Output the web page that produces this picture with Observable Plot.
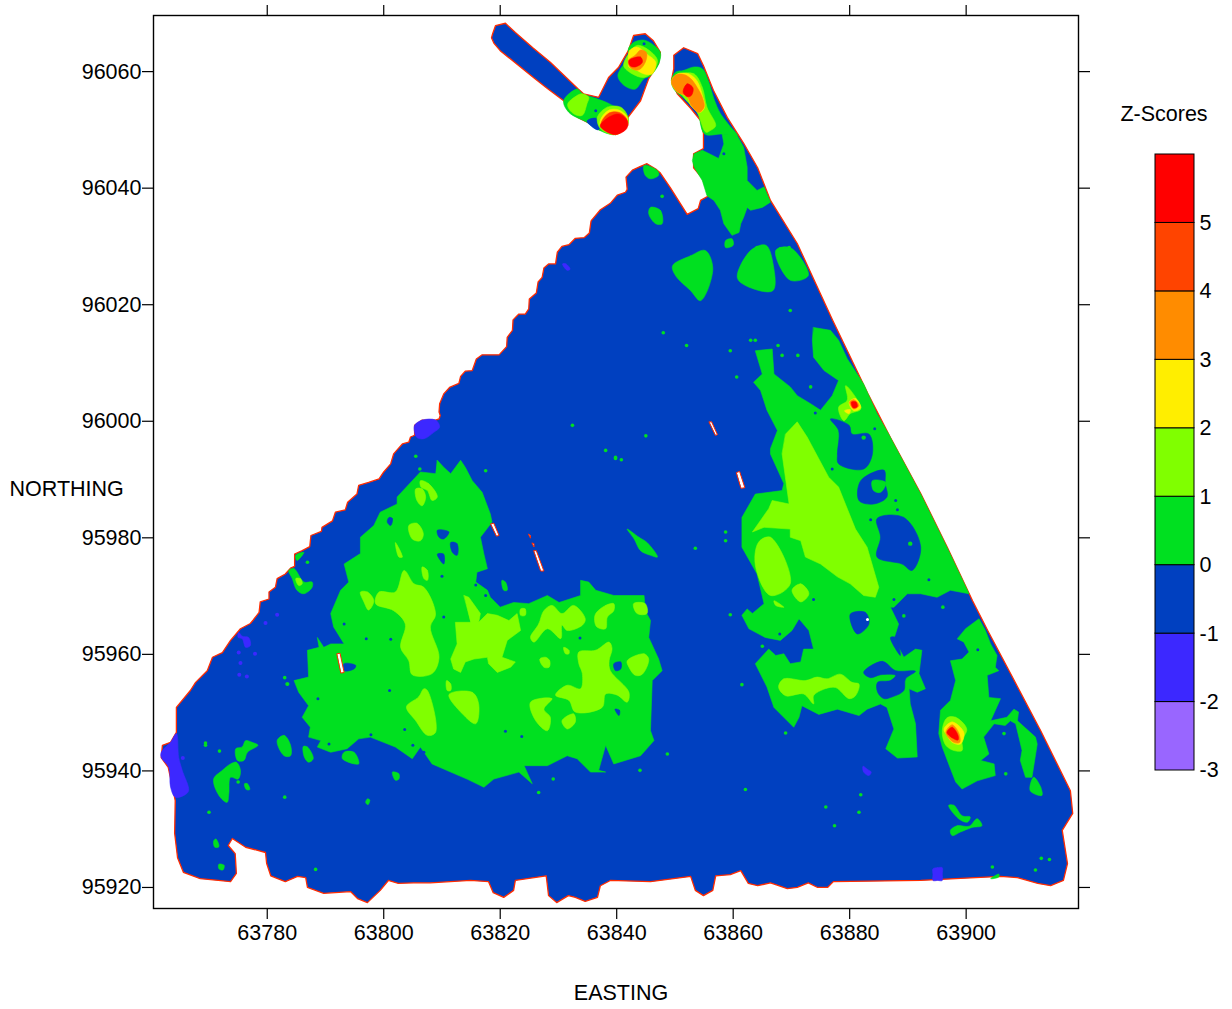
<!DOCTYPE html>
<html>
<head>
<meta charset="utf-8">
<script src="https://cdn.jsdelivr.net/npm/d3@7"></script>
<script src="https://cdn.jsdelivr.net/npm/@observablehq/plot@0.6"></script>
<style>
html,body{margin:0;padding:0;background:#fff}
#wrap{position:relative;width:1232px;height:1009px;overflow:hidden}
#wrap svg{position:absolute;overflow:visible;max-width:none}
</style>
</head>
<body>
<div id="wrap"></div>
<script>
// Survey coordinates are listed as metres beyond these bases, as flat easting,northing lists.
const eastingBase = 63700, northingBase = 95900;
const eastingTicks = [63780,63800,63820,63840,63860,63880,63900];
const northingTicks = [95920,95940,95960,95980,96000,96020,96040,96060];
const zLevels = [-3,-2,-1,0,1,2,3,4,5,6];
const zTickLabels = [-3,-2,-1,0,1,2,3,4,5];
const zColors = ["#9966ff","#3c28ff","#0040c0","#00e020","#80ff00","#ffee00","#ff8c00","#ff4400","#ff0000"];

// Extent of the surveyed area, band -1..0
const surveyArea = [
[145.2,144.2,146.7,143.3,147.5,142.6,149.2,140.1,152.1,135.5,154.0,136.5,154.4,137.9,155.8,138.7,154.7,141.7,153.2,143.5,153.2,145.9,154.9,146.8,154.9,149.4,154.4,151.6,152.7,153.7,150.4,156.2,149.4,158.5,149.8,160.5,149.8,162.8,151.5,164.1,153.9,163.1,154.9,161.0,156.6,156.8,159.0,152.1,161.8,147.7,164.2,143.5,166.4,137.9,171.0,130.5,177.1,117.3,179.6,112.1,183.1,104.8,187.0,97.2,192.2,87.6,196.8,78.3,201.1,69.2,203.7,64.1,207.1,57.7,212.8,46.9,217.9,36.6,218.3,32.7,216.5,29.8,217.4,24.1,216.7,21.2,214.5,20.3,212.3,20.7,208.8,21.7,205.9,21.9,192.2,21.2,177.2,21.0,176.2,20.0,174.5,20.0,172.9,20.8,171.0,20.0,169.3,19.8,166.4,20.8,164.2,20.3,162.6,20.7,161.3,22.9,159.5,22.2,157.0,22.0,156.5,19.5,154.9,18.6,153.5,19.5,152.7,21.9,145.8,21.0,138.9,21.2,137.2,20.3,136.7,18.3,134.6,17.6,132.9,18.3,131.7,18.6,129.7,17.4,128.3,18.6,127.9,22.0,122.6,21.2,122.3,19.5,120.6,18.3,118.8,19.1,118.0,21.0,114.9,21.2,108.0,20.8,105.1,20.8,102.5,20.7,100.8,21.2,99.4,19.5,97.2,17.4,95.5,18.1,94.3,19.3,89.7,19.0,86.9,20.0,86.6,21.7,85.2,21.9,83.1,21.0,80.6,22.0,79.9,24.1,79.7,26.0,76.3,26.9,74.0,28.4,73.3,27.2,74.5,25.8,74.7,22.4,73.7,21.0,71.6,21.2,68.5,21.5,65.6,22.6,64.6,25.1,64.1,29.3,64.2,34.9,63.0,40.6,61.8,42.3,62.0,44.4,63.4,44.9,64.4,46.6,64.4,50.9,66.8,53.8,67.7,55.2,69.7,57.2,70.6,59.5,72.3,60.3,73.7,62.4,75.4,64.4,77.1,65.3,77.6,65.9,78.6,67.2,78.8,69.0,80.3,69.5,80.3,70.7,81.4,71.5,81.7,73.0,83.1,73.8,84.0,74.8,84.7,75.1,84.7,77.2,86.0,77.8,87.3,78.5,87.5,80.4,89.3,81.1,89.4,81.8,91.2,82.9,91.7,84.4,93.4,84.8,93.8,86.1,95.4,87.5,95.7,89.0,97.4,89.5,99.2,90.1,100.0,91.3,101.2,92.7,101.7,94.4,102.3,95.1,103.2,96.1,104.3,96.4,104.6,97.3,105.3,97.6,105.3,99.3,106.6,100.2,108.9,100.2,109.5,100.4,109.7,101.0,109.5,101.6,109.6,103.0,110.3,104.7,111.3,105.8,112.9,106.5,113.2,107.7,114.0,108.6,115.2,108.7,115.9,110.7,116.9,111.4,119.8,111.4,121.1,112.8,121.2,114.4,122.1,115.6,122.2,117.4,123.2,118.4,124.3,118.4,124.9,119.3,125.0,121.0,126.2,122.0,126.5,123.9,127.2,124.7,127.5,126.3,128.3,127.0,129.5,127.0,129.8,129.0,130.6,130.0,131.8,130.3,132.9,131.4,134.4,131.5,135.3,132.3,135.6,134.4,137.2,136.3,138.9,137.4,140.1,138.8,141.5,139.3,141.8,139.8,141.6,141.9,142.7,143.1,144.0,143.7],
[118.7,166.5,119.2,167.9,120.9,168.3,122.6,166.7,125.7,164.0,128.6,161.6,133.3,157.1,134.3,156.2,136.9,155.6,138.6,159.0,140.3,160.7,142.0,163.6,142.9,166.2,144.9,166.5,146.3,165.3,147.5,163.3,147.2,161.4,145.5,158.8,144.1,155.0,141.9,152.1,141.9,150.8,139.8,149.2,136.9,150.1,135.0,151.3,133.4,152.1,131.7,153.3,130.9,155.0,128.1,157.1,125.7,159.0,120.0,163.6,118.9,164.9,118.5,165.8]
];

// Band -2..-1
const violetPatches = [
[61.8,43.2,63.4,44.9,64.4,46.4,64.8,42.3,65.4,40.1,66.5,36.6,65.7,35.8,64.2,35.5,63.4,37.2,63.1,40.6,61.8,42.3],
[75.1,63.8,75.7,63.1,76.8,62.9,77.1,61.5,76.3,61.2,75.7,62.7,75.0,62.9],
[182.3,40.8,183.0,40.3,183.7,39.8,183.3,39.2,182.4,39.8],
[194.3,23.2,195.1,23.4,195.9,23.4,195.9,22.3,195.9,21.2,195.1,21.2,194.3,21.2,194.3,22.2],
[105.3,99.3,106.6,100.2,108.9,100.2,109.6,99.0,108.6,98.1,106.9,97.0,105.7,97.2,105.3,98.1],
[130.7,127.0,131.3,127.0,132.0,126.1,131.5,125.9]
];
const violetSpots = [77.9,60.1,75.4,58.5,75.2,56.5,76.5,56.2,79.7,65.4,81.7,66.8,75.1,60.3,65.5,42.2];

// Band 0..1
const greenPatches = [
[130.9,155.0,133.2,157.0,134.1,156.2,136.7,155.3,138.7,154.5,141.8,152.5,141.8,150.8,139.8,149.2,136.9,150.0,134.9,151.3,131.8,153.0],
[140.2,159.3,140.7,160.5,142.1,162.5,142.0,163.9,142.9,165.0,144.7,165.4,146.4,164.5,147.5,163.3,147.2,161.3,145.8,159.3,144.7,158.8,143.2,157.0,141.8,157.3,140.7,158.2],
[150.1,159.9,151.5,160.2,153.3,160.8,154.7,160.5,155.8,158.2,156.7,155.3,157.8,152.8,159.3,150.8,160.7,149.0,158.1,149.3,155.1,149.3,153.8,153.3,152.1,155.0,149.8,157.0,149.4,158.5],
[153.3,145.9,154.7,146.5,156.1,145.8,157.5,145.1,158.4,147.6,158.1,149.3,160.7,149.0,161.8,147.0,162.4,143.6,162.4,141.3,164.1,139.6,165.3,140.2,166.4,137.6,165.0,136.7,163.0,136.2,162.4,136.7,161.8,135.0,161.3,133.9,161.0,132.4,159.8,131.9,158.4,133.9,157.8,136.2,156.7,137.9,155.5,138.7,154.7,141.3,153.3,143.6,153.0,144.7],
[144.7,143.9,147.0,143.0,147.2,142.2,145.8,141.6,144.9,142.2],
[145.8,136.7,147.5,136.2,147.8,133.9,146.7,133.9,145.5,135.6],
[158.7,131.0,159.8,131.3,160.0,130.2,158.7,129.8],
[149.6,126.7,152.7,128.4,155.2,129.3,156.5,126.2,154.4,120.7,152.7,122.4,150.1,125.0],
[160.7,124.7,163.0,129.3,165.6,130.2,166.9,126.7,166.8,122.4,162.1,123.3],
[167.3,129.3,169.8,129.8,172.9,125.0,169.8,124.2],
[173.8,116.1,176.7,115.6,178.1,113.9,179.6,110.7,182.4,106.4,184.7,101.3,186.7,97.8,187.6,96.1,192.2,87.5,196.7,78.4,200.5,70.4,197.3,71.0,195.0,69.8,192.2,70.4,189.9,70.4,187.6,68.1,187.0,68.1,188.4,65.2,187.6,62.7,189.3,59.5,191.3,60.9,192.4,60.7,191.9,56.7,193.0,54.1,191.6,53.5,190.2,54.1,190.4,51.5,191.3,48.1,191.6,42.4,188.2,42.2,186.2,43.8,187.6,47.2,186.4,50.9,185.3,51.5,183.0,50.6,181.6,49.5,177.9,50.6,174.7,49.7,171.8,51.2,171.3,49.2,170.4,47.5,167.0,50.9,165.8,54.4,163.8,58.4,166.1,60.9,167.3,59.8,168.7,60.1,169.8,58.4,171.6,58.7,172.1,60.9,173.8,60.9,173.0,64.1,171.3,66.1,170.1,64.1,168.1,62.4,165.5,62.9,162.7,64.4,161.5,66.7,162.4,67.8,163.3,67.0,165.3,68.7,164.1,73.8,161.5,78.4,161.5,83.5,163.8,87.5,168.4,88.1,168.7,89.3,166.4,94.4,166.4,95.3,167.6,98.4,165.8,101.9,164.7,105.3,163.5,106.7,165.0,108.1,163.8,112.1,166.7,112.4,167.0,108.1,169.8,105.9,171.0,104.4,173.3,103.0,175.0,101.9,177.0,104.4,178.1,107.0,175.6,108.7,173.8,111.0,173.6,113.9],
[198.5,62.7,199.9,64.4,202.2,66.1,203.3,64.1,204.2,61.8,205.3,59.8,205.0,57.8,205.6,57.2,203.6,56.4,203.9,52.6,205.9,52.4,204.2,48.6,207.0,49.2,208.2,50.6,209.0,50.1,208.8,48.6,211.9,45.8,212.2,44.6,211.3,38.9,210.2,38.9,209.3,41.8,209.6,43.5,208.5,48.1,207.6,48.6,206.7,47.8,204.8,48.1,203.0,45.8,203.9,42.9,202.5,41.8,204.8,41.2,205.0,39.2,201.9,38.3,199.3,36.9,198.2,38.1,197.0,41.2,195.9,44.1,195.3,46.4,195.6,50.4,197.3,52.1,198.2,55.5,197.6,57.8,197.3,58.9,199.3,59.2,200.5,60.4,199.6,62.1],
[211.6,38.9,212.8,37.2,213.0,35.8,211.0,36.6],
[197.0,34.1,197.9,34.1,199.3,32.3,200.7,32.1,200.2,31.2,198.7,31.8],
[197.3,29.8,198.5,30.6,200.5,30.5,201.9,31.8,202.7,30.6,201.0,30.3,199.0,29.5,197.6,28.9],
[204.2,21.5,205.6,22.3,205.6,21.8],
[109.2,93.3,110.3,92.1,111.5,91.0,113.2,93.3,114.0,92.1,115.2,89.8,116.9,87.8,118.3,84.1,118.6,82.7,116.6,80.1,117.2,77.2,117.8,74.7,116.0,74.1,115.8,72.4,117.8,71.0,118.3,69.8,120.0,68.1,122.3,68.9,124.9,68.7,128.1,70.1,130.1,68.9,133.8,70.1,133.8,72.7,135.2,72.4,136.4,71.0,139.5,70.1,144.7,70.1,144.9,67.5,145.8,65.8,145.5,62.9,147.2,59.2,147.8,57.2,146.1,55.5,145.8,46.9,146.4,45.2,144.1,42.6,139.5,41.2,138.1,44.4,136.9,40.1,138.1,39.8,135.5,39.8,133.2,42.1,131.5,42.6,128.1,40.9,124.1,40.9,125.5,37.8,123.2,39.8,118.9,38.6,117.2,37.2,114.3,38.6,111.5,39.8,108.3,41.2,106.3,44.1,104.9,42.1,102.0,44.1,97.7,45.8,95.7,45.5,93.7,43.8,90.9,43.2,88.6,44.1,89.2,45.2,87.1,45.8,87.4,47.5,86.0,49.2,87.1,51.2,85.4,53.5,84.6,55.5,87.1,56.1,86.9,60.7,88.9,61.2,88.6,62.9,89.7,61.2,90.9,61.8,93.2,61.8,91.4,64.7,90.9,67.0,92.6,71.0,94.0,72.4,93.2,75.5,96.0,77.3,96.0,80.1,98.3,82.1,99.4,84.4,102.3,85.8,102.3,87.0,104.9,89.8,106.3,91.3,108.9,91.0],
[93.2,43.2,94.9,43.2,95.7,41.2,92.9,42.1],
[83.7,74.4,84.6,74.7,86.3,72.4,87.7,72.4,87.7,71.5,86.3,70.4,85.1,71.0,84.3,73.0],
[84.9,77.0,86.3,77.5,85.1,76.1],
[120.3,72.7,120.9,72.4,121.2,71.0,120.6,71.0],
[141.8,81.5,143.8,80.1,145.2,79.2,147.0,76.7,145.8,77.0,144.1,77.8,143.0,79.8],
[101.5,39.8,102.6,39.5,102.6,38.6,102.0,38.4],
[74.6,43.8,75.7,44.1,76.3,45.2,77.4,44.9,78.4,44.4,76.6,43.2,76.0,41.8,74.9,41.8],
[73.7,41.2,74.7,41.5,75.4,40.1,75.0,38.6,73.7,38.9,73.4,36.1,73.1,34.6,71.7,35.8,70.8,38.6,72.3,40.1],
[81.7,45.2,82.9,46.1,84.0,44.4,84.0,42.6,82.9,42.6],
[86.2,44.2,86.9,44.1,87.9,42.1,87.1,41.5,86.4,42.3],
[76.1,37.8,76.6,37.8,77.0,36.8,76.4,36.8],
[70.8,28.0,71.2,28.3,71.7,27.0,71.0,26.9],
[71.7,24.0,72.6,23.8,72.4,23.0,71.7,23.2],
[97.2,35.2,97.6,35.0,97.3,34.2,96.9,34.6]
];
const greenSpots = [162.1,36.8,175.9,33.8,181.6,32.9,177.4,30.6,212.9,25.0,204.5,23.5,169.0,46.5,165.0,61.4,206.5,46.4,206.8,39.5,189.3,66.6,196.0,68.1,159.5,66.8,161.5,54.8,181.9,35.9,171.1,111.3,173.3,105.9,168.4,111.3,167.7,113,163,113.9,160.6,107.6,158.7,81,132.4,99.3,138.1,95,145,97.5,139.8,93.6,158.7,79.5,153.5,78.2,148,115.2,152,113,159.5,112.1,169.8,119,163.8,113.9,69.4,44.4,106.2,91.8,139.8,93.8,140.8,93.4,105.5,94.0,86.9,75.8,83.4,54.9,148.7,42.9,144,40.1,126.6,36.3,129.1,38.6,117.5,91.5,147.8,138.6,164.1,129.8,168.1,129.6,169.6,129.8,71.8,43.4,69.4,44.8,83,56,83.5,54.9,83,35.5,70,32.9,88.3,23.1,75,38.1,211.9,23,214.3,24.8];
const greenOnBlue = [182.4,97.2,190.4,79];
const greenIslands = [[183.9,89.8,186.2,89.5,185.3,87.8,184.1,88.1]];

// Band 1..2
const limePatches = [
[131.6,154.5,133.2,155.9,134.1,156.2,135.2,155.6,134.9,154.5,134.1,152.5,132.9,152.6,131.8,153.6],
[136.7,152.2,138.4,153.9,140.7,153.9,141.8,152.5,141.8,150.8,139.8,149.2,137.2,150.2],
[141.2,161.0,142.2,163.3,143.5,164.5,145.5,163.7,147.0,161.9,146.1,159.9,144.7,159.0,142.7,159.6],
[151.0,159.6,153.3,159.6,154.7,157.3,155.5,153.9,157.0,150.7,156.1,149.9,155.3,149.6,153.8,153.0,151.5,155.6,149.5,158.8],
[169.0,97.8,171.0,99.9,172.7,97.3,176.4,90.4,178.1,88.7,181.0,81.5,183.0,78.4,185.0,71.5,184.4,69.8,182.4,70.1,180.1,72.1,177.9,73.3,175.0,75.5,172.4,76.7,171.6,79.5,169.8,80.1,169.8,81.5,165.3,81.8,163.3,81.0,166.1,85.0,166.7,86.4,169.6,85.8,168.4,94.4],
[164.4,79.3,166.4,80.1,169.8,72.1,166.4,70.1,163.8,75.3],
[170.1,71.0,171.6,72.1,173.0,70.4,171.6,69.0],
[167.0,69.2,168.7,68.1,167.3,68.4],
[178.1,102.4,179.6,103.6,179.3,106.1,180.4,105.0,181.9,102.1,180.1,101.3,179.0,100.1],
[196.7,49.1,198.2,49.2,200.1,47.2,199.3,45.2,199.3,43.5,197.9,43.5,196.5,44.4,195.9,46.9],
[167.8,54.4,168.7,55.8,172.4,55.5,174.4,56.1,176.1,55.8,178.4,56.6,180.4,55.2,181.6,54.9,181.0,52.9,179.9,52.4,177.6,54.3,175.8,54.1,173.8,52.9,173.8,51.5,172.1,53.2,169.0,52.9],
[84.9,73.0,85.7,73.0,86.0,72.1,85.4,71.8],
[98.6,68.7,99.2,70.7,102.0,70.7,103.5,74.4,105.2,72.1,106.9,71.5,108.9,66.9,108.0,64.7,109.5,59.5,108.3,56.7,104.9,56.5,104.3,58.9,102.9,61.2,103.7,65.2,101.7,67.5],
[96.0,70.7,97.2,70.7,98.3,69.2,97.4,67.6,96.6,69.0],
[105.5,88.4,106.6,88.4,107.2,87.0,106.6,85.5,105.7,86.4],
[106.3,89.8,107.7,89.3,109.2,87.0,108.3,86.4,107.5,88.1,106.4,88.7],
[104.3,82.1,105.7,82.5,106.8,80.7,106.3,79.5,104.9,79.8],
[113.8,70.1,114.6,69.8,116.6,67.0,116.3,65.5,117.8,67.0,119.5,66.7,121.5,65.8,122.9,67.0,123.5,64.1,121.2,62.4,120.3,59.5,122.6,58.7,121.8,57.8,119.5,56.9,118.0,58.4,117.8,59.5,115.5,59.2,114.0,58.7,113.2,56.9,112.0,57.5,111.5,59.2,112.6,61.8,112.3,65.5,114.9,65.5],
[125.2,62.9,126.6,65.2,127.5,67.5,128.9,68.4,130.6,67.0,132.6,68.4,134.6,66.1,134.1,65.0,131.5,64.1,130.6,65.0,130.4,62.7,128.1,64.4,125.8,62.1],
[136.4,67.0,138.1,68.4,139.5,68.7,139.5,67.5,138.4,66.4,138.1,64.4,136.6,64.7,136.2,65.8],
[142.9,68.7,144.9,68.7,145.2,67.0,143.5,67.0],
[141.8,58.9,144.7,60.1,145.5,59.2,144.4,56.6,143.2,56.4,142.1,57.8],
[133.5,60.4,136.4,60.7,138.7,62.1,139.2,61.0,138.7,58.9,138.9,57.2,142.1,53.5,141.8,51.8,140.1,53.0,138.1,53.2,137.5,50.9,132.9,50.1,131.8,52.1,129.5,53.0,131.5,54.7,133.8,54.1,134.1,56.7,133.5,58.4],
[111.2,53.1,115.2,53.5,116.3,51.5,115.8,48.1,113.5,49.8],
[103.9,51.0,106.0,52.7,106.9,54.1,107.5,53.8,108.9,46.6,107.5,46.1,105.5,48.6],
[125.2,51.8,128.9,52.4,127.5,50.6,128.6,49.2,128.1,46.9,126.1,48.6],
[130.6,48.6,132.6,49.8,132.9,48.4,131.5,47.2],
[127.8,59.5,128.5,58.9,128.4,57.8,127.5,57.8,126.8,59.2],
[106.6,75.0,107.5,74.4,107.5,72.7,106.9,73.0],
[102.0,79.2,103.2,76.7,102.6,76.7],
[110.8,55.5,111.5,54.9,111.5,53.8,110.9,53.8],
[130.9,61.2,131.8,60.7,131.8,60.1,131.2,60.1],
[123.5,67.8,124.3,67.8,124.3,66.7,123.5,66.7]
];

// Band 2..3
const yellowPatches = [
[137.3,151.9,138.7,153.4,140.4,153.4,141.8,152.2,141.8,150.8,139.8,149.2,137.2,150.7],
[142.0,161.9,142.2,163.6,143.5,164.2,145.2,163.0,146.7,161.6,146.1,159.6,144.7,159.6,143.5,160.2,142.1,160.8],
[150.4,159.6,152.4,159.6,153.8,158.4,154.8,155.6,155.1,153.9,154.3,153.0,152.7,154.2,152.1,155.7,150.4,156.5,149.4,158.2],
[179.9,103.3,181.0,103.9,181.9,102.3,180.7,101.8],
[179.1,101.8,180.1,102.0,179.9,101.3],
[196.2,47.2,197.6,48.4,199.6,46.6,199.0,44.6,197.6,44.9,196.7,46.1]
];

// Band 3..4
const orangePatches = [
[142.0,161.9,143.2,162.8,144.1,163.7,145.1,163.3,144.9,161.6,143.8,160.3,142.4,160.6],
[149.4,158.2,150.1,159.4,151.5,159.5,152.7,158.8,153.8,157.3,154.8,155.3,155.0,153.9,154.1,153.0,152.8,154.2,152.1,155.7,150.4,156.5],
[180.0,103.3,180.7,103.7,181.6,102.7,180.7,102.1],
[196.5,46.6,197.6,47.9,198.7,46.6,198.9,44.9,197.9,44.9]
];

// Band 4..5
const deepOrangePatches = [
[137.5,151.6,138.7,152.9,140.4,153.0,141.7,151.9,141.7,150.5,139.8,149.2,137.3,150.5]
];

// Band 5 and above
const redPatches = [
[137.2,150.7,138.7,152.2,140.4,152.7,141.8,151.6,141.7,150.2,139.8,149.2,138.1,149.8],
[142.1,161.9,144.1,162.5,144.4,161.6,143.2,160.8,142.3,161.0],
[151.4,156.5,152.1,157.9,153.1,157.2,152.8,155.9,152.1,155.7],
[180.3,103.3,181.1,103.3,181.3,102.5,180.6,102.3],
[196.7,46.6,197.6,47.5,198.6,46.1,198.6,45.3,197.9,45.5]
];

// Areas of band -1..0 enclosed by band 0..1
const blueHoles = [
[134.9,151.5,136.4,152.0,137.2,150.7,136.8,150.0],
[178.1,98.4,177.9,94.4,178.1,92.7,182.4,91.8,183.9,94.4,183.3,97.8,180.4,97.8,179.9,99.3,176.7,100.4],
[184.7,83.3,189.3,83.5,192.2,78.4,190.7,74.4,189.0,75.5,184.7,76.7,185.3,80.1],
[181.9,89.8,185.9,91.6,186.1,89.3,186.4,87.0,184.1,85.8,181.6,86.4],
[180.1,66.9,182.7,67.2,183.3,65.2,181.3,63.5],
[182.4,56.9,185.6,58.8,187.9,57.2,191.3,57.1,189.6,55.8,189.3,53.8,187.0,52.6,185.9,52.4,184.8,53.5,184.8,55.2,187.0,55.5,187.9,56.4,185.3,56.5,183.6,56.0],
[187.0,62.9,187.9,62.9,188.7,59.8],
[111.5,79.2,112.6,79.0,112.6,77.0,111.8,77.5],
[109.2,81.3,111.2,81.0,110.3,79.8,109.5,80.1],
[109.2,77.2,110.3,77.2,110.3,75.5],
[93.2,58.4,95.2,58.1,94.9,57.5,93.2,57.2],
[139.5,58.4,140.7,58.7,140.7,57.5,139.8,57.2],
[139.7,50.6,140.5,50.4,140.4,49.5],
[100.9,83.5,101.5,83.3,101.2,82.1,100.6,82.7]
];
const blueSpots = [120.9,46.8,123.7,45.9,97.8,46.2,103.6,47.1,105,44.4,97,62.7,101.2,62.6,110.3,66.4,110,73.4,115.8,71.9,133.7,62.8,93.2,65.2,88.7,52.4,101,53.8,90.6,44.6,117.5,70.1,106.9,43.2,174.1,101.4,173.8,69.4,177,91.8,184.3,98.7,183.6,83.1,187.9,86.4,188.2,84.8,185.9,87.7,193.6,72.8,187.6,69.4,181.6,66.7,144.7,164.8,136.4,153.3,158.4,145.9,202,60.8,168,63.5];

// Unsurveyed slits inside the area
const gapSlits = [
[92.0,60.1,92.5,60.2,93.2,56.9,92.7,56.8],
[118.4,82.4,118.9,82.5,119.8,80.4,119.4,80.3],
[125.8,77.8,126.2,77.8,127.5,74.3,127.0,74.3],
[124.9,80.6,125.2,80.4,125.2,80.0],
[125.5,79.1,125.8,79.0,125.8,78.5],
[155.9,99.9,156.3,99.9,157.3,97.7,157.0,97.6],
[160.6,91.2,161.1,91.4,162.0,88.6,161.4,88.5]
];
const gapSpots = [183.06,66.0];

const toRows = polys => polys.flatMap((flat, i) => {
  const out = [];
  for (let k = 0; k < flat.length; k += 2) out.push({id: i, e: eastingBase + flat[k], n: northingBase + flat[k + 1]});
  return out;
});
const toPoints = flat => d3.range(0, flat.length, 2).map(i => ({e: eastingBase + flat[i], n: northingBase + flat[i + 1]}));
// Large traced outlines keep their rough edges; small patches are rounded.
const band = (polys, fill, extra = {}) => ["rough", "round"].map(kind => Plot.line(
  toRows(polys.filter(p => (p.length >= 40) === (kind === "rough"))),
  {x: "e", y: "n", z: "id", fill, stroke: fill, strokeWidth: 0.6, curve: kind === "rough" ? "linear-closed" : "catmull-rom-closed", ...extra}
));
const spots = (flat, fill, r) => Plot.dot(toPoints(flat), {x: "e", y: "n", r, fill, stroke: "none"});

const font = "'Liberation Sans', Arial, sans-serif";
const main = Plot.plot({
  width: 1232, height: 1009,
  marginLeft: 153, marginRight: 154, marginTop: 15, marginBottom: 101,
  style: {fontFamily: font, fontSize: "21.5px", color: "#000", background: "#fff"},
  x: {domain: [63760.47, 63919.29]},
  y: {domain: [95916.39, 96069.63]},
  marks: [
    band(surveyArea, zColors[2], {stroke: "#ff2c00", strokeWidth: 1.3}),
    band(violetPatches, zColors[1]),
    spots(violetSpots, zColors[1], 2),
    band(greenPatches, zColors[3]),
    spots(greenSpots, zColors[3], 1.8),
    band(blueHoles, zColors[2]),
    spots(blueSpots, zColors[2], 1.5),
    band(greenIslands, zColors[3]),
    spots(greenOnBlue, zColors[3], 2.2),
    band(limePatches, zColors[4]),
    band(yellowPatches, zColors[5]),
    band(orangePatches, zColors[6]),
    band(deepOrangePatches, zColors[7]),
    band(redPatches, zColors[8]),
    Plot.line(toRows(gapSlits), {x: "e", y: "n", z: "id", fill: "#fff", stroke: "#ff2c00", strokeWidth: 1, curve: "linear-closed"}),
    spots(gapSpots, "#fff", 1.5),
    Plot.frame({stroke: "#000", strokeWidth: 1.4}),
    Plot.axisX(eastingTicks, {anchor: "bottom", tickSize: 11, tickPadding: 5, tickFormat: String, label: null, fontSize: 21.5, strokeWidth: 1.2}),
    Plot.axisX(eastingTicks, {anchor: "top", tickSize: 11, tickFormat: () => "", label: null, strokeWidth: 1.2}),
    Plot.axisY(northingTicks, {anchor: "left", tickSize: 11, tickPadding: 1, tickFormat: String, label: null, fontSize: 21.5, strokeWidth: 1.2}),
    Plot.axisY(northingTicks, {anchor: "right", tickSize: 11, tickFormat: () => "", label: null, strokeWidth: 1.2}),
    Plot.text(["EASTING"], {frameAnchor: "bottom", dx: 5, dy: 91, fontSize: 21.5, fill: "#000"}),
    Plot.text(["NORTHING"], {frameAnchor: "left", dx: -144, dy: 27, textAnchor: "start", fontSize: 21.5, fill: "#000"})
  ]
});

const legendRows = zColors.map((c, i) => ({lo: zLevels[i], hi: zLevels[i + 1], c}));
const legend = Plot.plot({
  width: 132, height: 700,
  marginLeft: 55, marginRight: 38, marginTop: 54, marginBottom: 30,
  style: {fontFamily: font, fontSize: "21.5px", color: "#000", background: "transparent"},
  x: {domain: [0, 1], axis: null},
  y: {domain: [-3, 6], axis: null},
  marks: [
    Plot.rect(legendRows, {x1: 0, x2: 1, y1: "lo", y2: "hi", fill: "c", stroke: "#000", strokeWidth: 1}),
    Plot.axisY(zTickLabels, {anchor: "right", tickSize: 0, tickPadding: 5, tickFormat: String, label: null, fontSize: 21.5}),
    Plot.text(["Z-Scores"], {frameAnchor: "top", dx: -11, dy: -40, lineAnchor: "middle", fontSize: 21.5, fill: "#000"})
  ]
});
legend.style.left = "1100px";
legend.style.top = "100px";
main.style.left = "0";
main.style.top = "0";
document.getElementById("wrap").append(main, legend);
</script>
</body>
</html>
